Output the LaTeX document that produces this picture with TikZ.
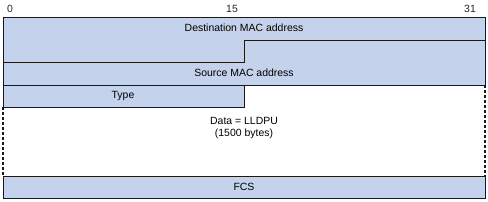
\documentclass[tikz,border=0pt]{standalone}
\usepackage{fontspec}
\setmainfont{Liberation Sans}
\definecolor{fieldblue}{RGB}{197,210,235}
\definecolor{edge}{RGB}{25,25,25}
\begin{document}
\begin{tikzpicture}[x=1bp,y=-1bp,
  field/.style={fill=fieldblue,draw=edge,line width=1bp},
  lbl/.style={font=\fontsize{10.5}{12.5}\selectfont,inner sep=0pt,text=black},
  bitlbl/.style={font=\fontsize{10.5}{12}\selectfont,inner sep=0pt,text=black!85},
  dashline/.style={draw=edge,line width=1.3bp,dash pattern=on 3bp off 2bp}]
\useasboundingbox (0,0) rectangle (488,201);
% fields
\path[field] (3,17) -- (485,17) -- (485,40) -- (244,40) -- (244,62) -- (3,62) -- cycle;
\path[field] (3,62) -- (244,62) -- (244,40) -- (485,40) -- (485,85) -- (3,85) -- cycle;
\path[field] (3,85) rectangle (244,107);
\path[field] (3,176) rectangle (485,198);
% dashed sides of data
\coordinate (dl1) at (3,107);
\coordinate (dl2) at (3,176);
\coordinate (dr1) at (485,85);
\coordinate (dr2) at (485,176);
\path[dashline] (dl1) -- (dl2);
\path[dashline] (dr1) -- (dr2);
% bit labels
\node[bitlbl] (b0) at (10,9) {0};
\node[bitlbl] (b15) at (232,9) {15};
\node[bitlbl] (b31) at (470,9) {31};
% field labels
\node[lbl] (dst) at (244,28) {Destination MAC address};
\node[lbl] (src) at (244,73) {Source MAC address};
\node[lbl] (typ) at (123,96) {Type};
\node[lbl,align=center] (data) at (244,128) {Data = LLDPU\\(1500 bytes)};
\node[lbl] (fcs) at (244,187) {FCS};
\end{tikzpicture}
\end{document}
